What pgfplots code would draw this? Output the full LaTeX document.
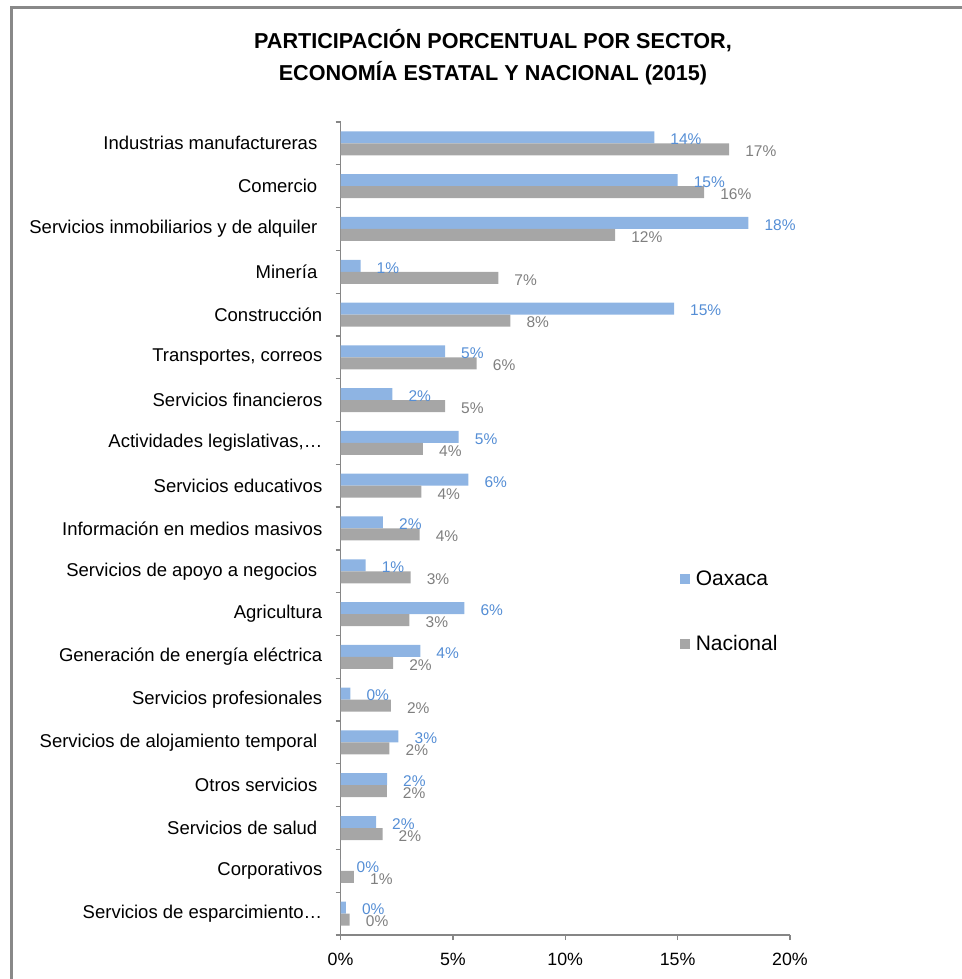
\documentclass[border=0pt]{standalone}
\usepackage{fontspec}
\setmainfont{Liberation Sans}
\usepackage{pgfplots}
\usepackage{pgfplotstable}
\pgfplotsset{compat=1.18}

\definecolor{oax}{HTML}{8EB4E3}
\definecolor{nac}{HTML}{A6A6A6}
\definecolor{oaxlbl}{HTML}{558ED5}
\definecolor{naclbl}{HTML}{7F7F7F}
\definecolor{axgray}{HTML}{868686}
\definecolor{framegray}{HTML}{898989}

% sectors listed bottom to top
\pgfplotstableread{
idx oax   nac
0   0.24  0.41
1   0.00  0.60
2   1.58  1.87
3   2.07  2.06
4   2.58  2.18
5   0.44  2.24
6   3.55  2.34
7   5.51  3.07
8   1.12  3.12
9   1.89  3.52
10  5.69  3.60
11  5.26  3.67
12  2.31  4.65
13  4.65  6.06
14  14.84 7.56
15  0.89  7.02
16  18.15 12.22
17  15.00 16.18
18  13.96 17.29
}\sectores

\begin{document}
\begin{tikzpicture}
\path[use as bounding box] (0,0) rectangle (962bp,979bp);
\draw[framegray, line width=3bp] (11.5bp,-2bp) -- (11.5bp,971.8bp) -- (964bp,971.8bp);
\node[anchor=base, font=\fontsize{21.6bp}{26bp}\selectfont\bfseries] at (493bp,930.7bp) {PARTICIPACIÓN PORCENTUAL POR SECTOR,};
\node[anchor=base, font=\fontsize{21.6bp}{26bp}\selectfont\bfseries] at (493bp,898.3bp) {ECONOMÍA ESTATAL Y NACIONAL (2015)};
\begin{axis}[
  at={(340.5bp,44bp)}, anchor=south west,
  scale only axis, width=449.5bp, height=813bp,
  xbar, bar width=12bp,
  xmin=0, xmax=20, ymin=-0.5, ymax=18.5,
  axis lines=left,
  axis line style={-, draw=axgray, line width=1.3bp},
  tick align=outside, major tick length=5bp,
  tick style={draw=axgray, line width=1.3bp},
  /pgf/number format/assume math mode=true,
  xtick={0,5,10,15,20},
  xticklabel={\pgfmathprintnumber{\tick}\%},
  xticklabel style={anchor=north, inner sep=0pt, yshift=-13bp, font=\fontsize{17.8bp}{21bp}\selectfont},
  ytick={-0.5,0.5,1.5,2.5,3.5,4.5,5.5,6.5,7.5,8.5,9.5,10.5,11.5,12.5,13.5,14.5,15.5,16.5,17.5,18.5},
  yticklabels={Servicios de esparcimiento…, Corporativos, Servicios de salud\kern5bp, Otros servicios\kern5bp,
    Servicios de alojamiento temporal\kern5bp, Servicios profesionales, Generación de energía eléctrica,
    Agricultura, Servicios de apoyo a negocios\kern5bp, Información en medios masivos, Servicios educativos,
    {Actividades legislativas,…}, Servicios financieros, {Transportes, correos}, Construcción, Minería\kern5bp,
    Servicios inmobiliarios y de alquiler\kern5bp, Comercio\kern5bp, Industrias manufactureras\kern5bp, {}},
  yticklabel style={anchor=east, inner sep=0pt, xshift=-13bp, yshift=21.4bp, font=\fontsize{18.5bp}{21bp}\selectfont},
  point meta=x,
  nodes near coords={\pgfmathprintnumber[fixed,precision=0]{\pgfplotspointmeta}\%},
  legend style={draw=none, fill=none, at={(0.7544,0.398)}, anchor=west,
    font=\fontsize{21bp}{25bp}\selectfont, row sep=49bp, inner sep=0pt,
    nodes={inner sep=0pt}, cells={anchor=west},
    /tikz/every odd column/.append style={column sep=6bp}},
  legend image code/.code={\fill[#1] (0bp,-5bp) rectangle (10bp,5bp);},
]
\addplot[fill=oax, draw=none, bar shift=6bp,
  every node near coord/.append style={anchor=west, inner sep=0pt, xshift=16bp, yshift=-2bp, text=oaxlbl, font=\fontsize{15.5bp}{18bp}\selectfont}]
  table[x=oax, y=idx] {\sectores};
\addplot[fill=nac, draw=none, bar shift=-6bp,
  every node near coord/.append style={anchor=west, inner sep=0pt, xshift=16bp, yshift=-2bp, text=naclbl, font=\fontsize{15.5bp}{18bp}\selectfont}]
  table[x=nac, y=idx] {\sectores};
\legend{Oaxaca, Nacional}
\end{axis}
\end{tikzpicture}
\end{document}
